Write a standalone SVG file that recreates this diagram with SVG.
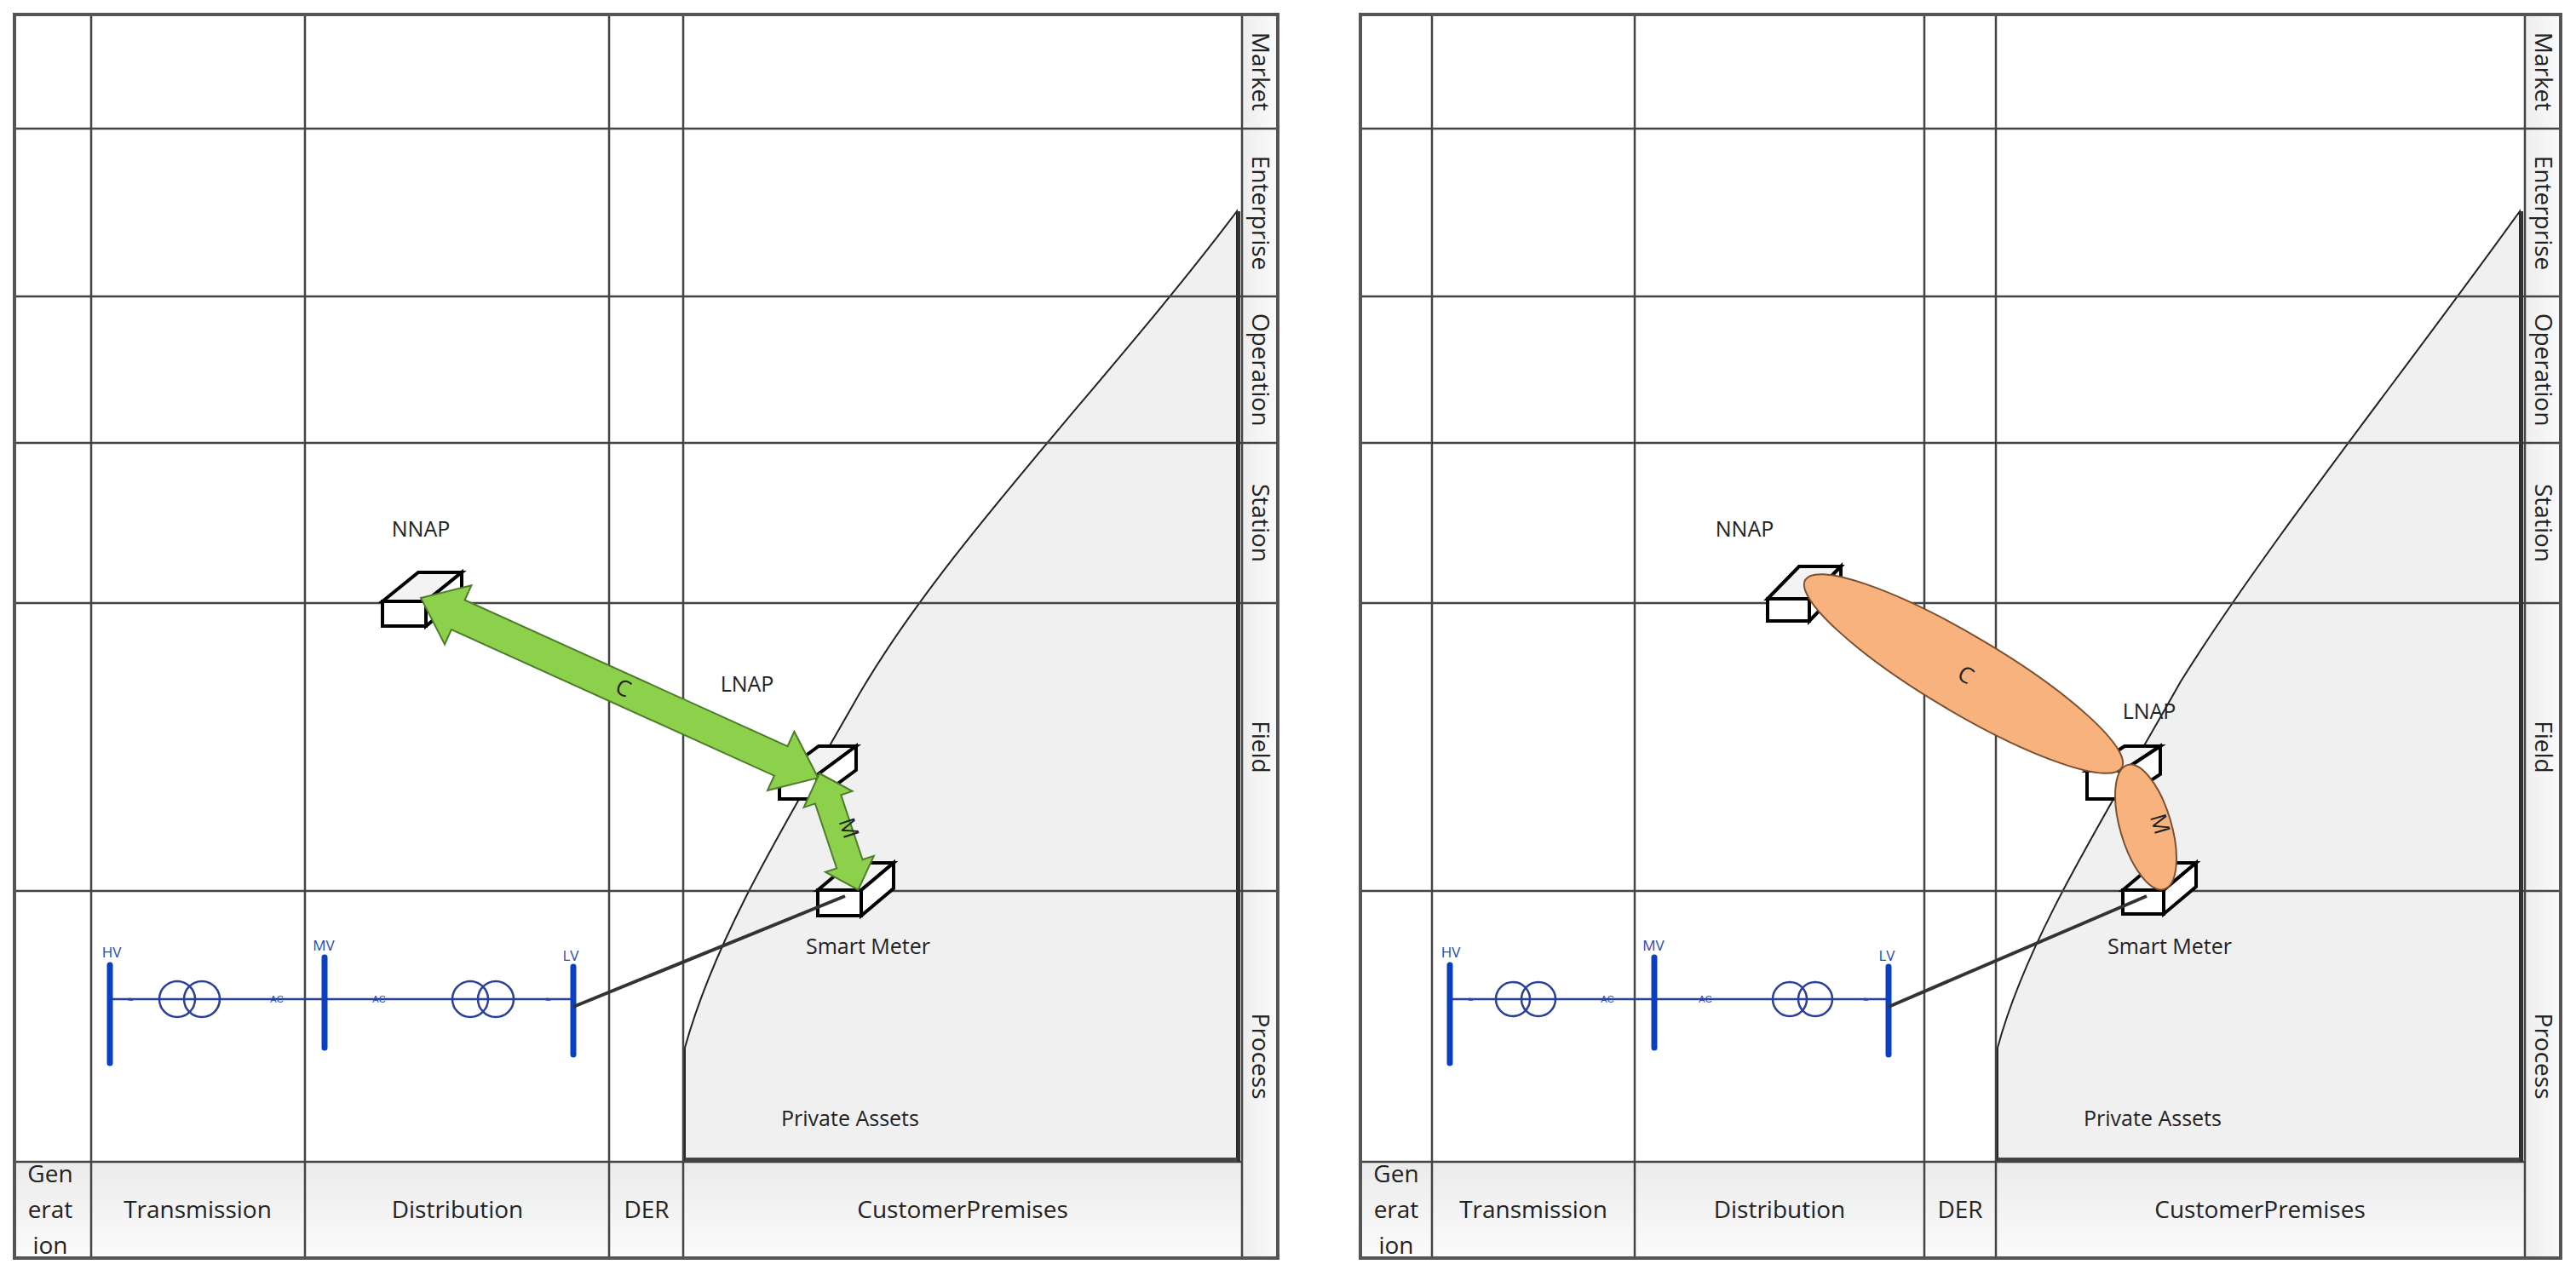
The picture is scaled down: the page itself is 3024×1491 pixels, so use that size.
<svg xmlns="http://www.w3.org/2000/svg" width="3024" height="1491" viewBox="0 0 3024 1491">
<defs>
<linearGradient id="dom" x1="0" y1="0" x2="0" y2="1"><stop offset="0" stop-color="#ebebeb"/><stop offset="1" stop-color="#fbfbfb"/></linearGradient>
<linearGradient id="lay" x1="0" y1="0" x2="1" y2="0"><stop offset="0" stop-color="#eeeeee"/><stop offset="1" stop-color="#fafafa"/></linearGradient>
</defs>
<style>
.grid{stroke:#444;stroke-width:2.5;fill:none}
.border{stroke:#555;stroke-width:4;fill:none}
.t{font-family:"Open Sans","Liberation Sans",sans-serif;fill:#222}
.dom{font-size:28px;text-anchor:middle}
.lay{font-size:28px;text-anchor:middle}
.lbl{font-size:25px;text-anchor:middle}
.ev{font-family:"Open Sans","Liberation Sans",sans-serif;fill:#2a49b0;font-size:17px;text-anchor:middle}
.small{font-family:"Liberation Sans",sans-serif;fill:#2a49b0;font-size:11px;text-anchor:middle}
.bus{stroke:#0a3fc2;stroke-width:7;stroke-linecap:round}
.wire{stroke:#2a3f99;stroke-width:2.5;fill:none}
.tr{stroke:#2a3f99;stroke-width:2.5;fill:none}
.box{stroke:#000;stroke-width:4;fill:#fff;stroke-linejoin:miter}
.boxt{stroke:#000;stroke-width:4;fill:#f3f3f3}
.priv{fill:#f0f0f0;stroke:#222;stroke-width:2}
.link{stroke:#333;stroke-width:4;fill:none}
.arr{fill:#8cd04c;stroke:#4d7d2c;stroke-width:2}
.ell{fill:#f7b27e;stroke:#7a5030;stroke-width:2}
</style>
<rect width="3024" height="1491" fill="#fff"/>

<!-- LEFT PANEL -->
<g id="left-frame">
<path class="priv" d="M1452,248 C1300,450 1100,650 1000,830 C920,970 840,1100 804,1230 L804,1362 L1452,1362 Z"/>
<rect x="17" y="1364" width="1441" height="113" fill="url(#dom)"/>
<rect x="1458" y="17" width="42" height="1460" fill="url(#lay)"/>
<g class="grid">
<line x1="17" y1="151" x2="1500" y2="151"/><line x1="17" y1="348" x2="1500" y2="348"/>
<line x1="17" y1="520" x2="1500" y2="520"/><line x1="17" y1="708" x2="1500" y2="708"/>
<line x1="17" y1="1046" x2="1500" y2="1046"/><line x1="17" y1="1364" x2="1458" y2="1364"/>
<line x1="107" y1="17" x2="107" y2="1477"/><line x1="358" y1="17" x2="358" y2="1477"/>
<line x1="715" y1="17" x2="715" y2="1477"/><line x1="802" y1="17" x2="802" y2="1477"/>
<line x1="1458" y1="17" x2="1458" y2="1477"/>
</g>
<line x1="804" y1="1362" x2="1454" y2="1362" stroke="#444" stroke-width="6"/>
<line x1="1454" y1="248" x2="1454" y2="1364" stroke="#333" stroke-width="4"/>
<rect class="border" x="17" y="17" width="1483" height="1460"/>
<text class="t dom" x="59" y="1388">Gen</text><text class="t dom" x="59" y="1430">erat</text><text class="t dom" x="59" y="1472">ion</text>
<text class="t dom" x="232" y="1430">Transmission</text><text class="t dom" x="537" y="1430">Distribution</text>
<text class="t dom" x="759" y="1430">DER</text><text class="t dom" x="1130" y="1430">CustomerPremises</text>
<g class="t lay">
<text transform="translate(1470,84) rotate(90)">Market</text>
<text transform="translate(1470,250) rotate(90)">Enterprise</text>
<text transform="translate(1470,434) rotate(90)">Operation</text>
<text transform="translate(1470,614) rotate(90)">Station</text>
<text transform="translate(1470,877) rotate(90)">Field</text>
<text transform="translate(1470,1240) rotate(90)">Process</text>
</g>
<text class="t lbl" x="998" y="1322">Private Assets</text>
</g>

<g id="left-grid-electrical">
<line class="wire" x1="129" y1="1173" x2="673" y2="1173"/>
<circle class="tr" cx="208" cy="1173" r="21" fill="#fff"/><circle class="tr" cx="237" cy="1173" r="21" fill="none"/>
<circle class="tr" cx="552" cy="1173" r="21" fill="#fff"/><circle class="tr" cx="582" cy="1173" r="21" fill="none"/>
<line class="bus" x1="129" y1="1133" x2="129" y2="1248"/>
<line class="bus" x1="381" y1="1124" x2="381" y2="1230"/>
<line class="bus" x1="673" y1="1135" x2="673" y2="1238"/>
<text class="ev" x="131" y="1124">HV</text><text class="ev" x="380" y="1116">MV</text><text class="ev" x="670" y="1128">LV</text>
<text class="small" x="153" y="1177">≈</text><text class="small" x="325" y="1177">AC</text>
<text class="small" x="445" y="1177">AC</text><text class="small" x="643" y="1177">≈</text>
</g>

<g id="left-NNAP">
<polygon class="boxt" points="449,706 491,672 542,672 500,706"/>
<polygon class="box" points="500,706 542,672 542,701 500,735"/>
<rect class="box" x="449" y="706" width="51" height="29"/>
<text class="t lbl" x="494" y="630">NNAP</text>
</g>
<g id="left-LNAP">
<polygon class="boxt" points="915,910 961,876 1005,876 959,910"/>
<polygon class="box" points="959,910 1005,876 1005,904 959,938"/>
<rect class="box" x="915" y="910" width="44" height="28"/>
<text class="t lbl" x="877" y="812">LNAP</text>
</g>
<g id="left-SmartMeter">
<polygon class="boxt" points="960,1045 998,1013 1049,1013 1011,1045"/>
<polygon class="box" points="1011,1045 1049,1013 1049,1043 1011,1075"/>
<rect class="box" x="960" y="1045" width="51" height="30"/>
<text class="t lbl" x="1019" y="1120">Smart Meter</text>
</g>

<g id="left-connectors">
<line class="link" x1="673" y1="1182" x2="992" y2="1052"/>
<polygon class="arr" transform="translate(494,702) rotate(24.36)" points="0,0 48,-38 48,-19 464,-19 464,-38 512,0 464,38 464,19 48,19 48,38"/>
<text class="t" font-size="26" text-anchor="middle" transform="translate(728,816) rotate(24.36)">C</text>
<polygon class="arr" transform="translate(962,908) rotate(71.6)" points="0,0 32,-30 32,-16 112,-16 112,-30 144,0 112,30 112,16 32,16 32,30"/>
<text class="t" font-size="26" text-anchor="middle" transform="translate(988,975) rotate(71.6)">M</text>
</g>

<!-- RIGHT PANEL -->
<g id="right-frame">
<path class="priv" d="M2958,248 C2820,440 2660,640 2560,800 C2470,960 2380,1100 2345,1230 L2345,1362 L2958,1362 Z"/>
<rect x="1597" y="1364" width="1367" height="113" fill="url(#dom)"/>
<rect x="2964" y="17" width="42" height="1460" fill="url(#lay)"/>
<g class="grid">
<line x1="1597" y1="151" x2="3006" y2="151"/><line x1="1597" y1="348" x2="3006" y2="348"/>
<line x1="1597" y1="520" x2="3006" y2="520"/><line x1="1597" y1="708" x2="3006" y2="708"/>
<line x1="1597" y1="1046" x2="3006" y2="1046"/><line x1="1597" y1="1364" x2="2964" y2="1364"/>
<line x1="1681" y1="17" x2="1681" y2="1477"/><line x1="1919" y1="17" x2="1919" y2="1477"/>
<line x1="2259" y1="17" x2="2259" y2="1477"/><line x1="2343" y1="17" x2="2343" y2="1477"/>
<line x1="2964" y1="17" x2="2964" y2="1477"/>
</g>
<line x1="2345" y1="1362" x2="2960" y2="1362" stroke="#444" stroke-width="6"/>
<line x1="2960" y1="248" x2="2960" y2="1364" stroke="#333" stroke-width="4"/>
<rect class="border" x="1597" y="17" width="1409" height="1460"/>
<text class="t dom" x="1639" y="1388">Gen</text><text class="t dom" x="1639" y="1430">erat</text><text class="t dom" x="1639" y="1472">ion</text>
<text class="t dom" x="1800" y="1430">Transmission</text><text class="t dom" x="2089" y="1430">Distribution</text>
<text class="t dom" x="2301" y="1430">DER</text><text class="t dom" x="2653" y="1430">CustomerPremises</text>
<g class="t lay">
<text transform="translate(2976,84) rotate(90)">Market</text>
<text transform="translate(2976,250) rotate(90)">Enterprise</text>
<text transform="translate(2976,434) rotate(90)">Operation</text>
<text transform="translate(2976,614) rotate(90)">Station</text>
<text transform="translate(2976,877) rotate(90)">Field</text>
<text transform="translate(2976,1240) rotate(90)">Process</text>
</g>
<text class="t lbl" x="2527" y="1322">Private Assets</text>
</g>

<g id="right-grid-electrical">
<line class="wire" x1="1702" y1="1173" x2="2217" y2="1173"/>
<circle class="tr" cx="1776" cy="1173" r="20" fill="#fff"/><circle class="tr" cx="1806" cy="1173" r="20" fill="none"/>
<circle class="tr" cx="2101" cy="1173" r="20" fill="#fff"/><circle class="tr" cx="2131" cy="1173" r="20" fill="none"/>
<line class="bus" x1="1702" y1="1133" x2="1702" y2="1248"/>
<line class="bus" x1="1942" y1="1124" x2="1942" y2="1230"/>
<line class="bus" x1="2217" y1="1135" x2="2217" y2="1238"/>
<text class="ev" x="1703" y="1124">HV</text><text class="ev" x="1941" y="1116">MV</text><text class="ev" x="2215" y="1128">LV</text>
<text class="small" x="1726" y="1177">≈</text><text class="small" x="1887" y="1177">AC</text>
<text class="small" x="2002" y="1177">AC</text><text class="small" x="2190" y="1177">≈</text>
</g>

<g id="right-NNAP">
<polygon class="boxt" points="2075,703 2112,665 2161,665 2124,703"/>
<polygon class="box" points="2124,703 2161,665 2161,691 2124,729"/>
<rect class="box" x="2075" y="703" width="49" height="26"/>
<text class="t lbl" x="2048" y="630">NNAP</text>
</g>
<g id="right-LNAP">
<polygon class="boxt" points="2450,905 2494,876 2536,876 2492,905"/>
<polygon class="box" points="2492,905 2536,876 2536,909 2492,938"/>
<rect class="box" x="2450" y="905" width="42" height="33"/>
<text class="t lbl" x="2523" y="844">LNAP</text>
</g>
<g id="right-SmartMeter">
<polygon class="boxt" points="2492,1045 2530,1013 2578,1013 2540,1045"/>
<polygon class="box" points="2540,1045 2578,1013 2578,1041 2540,1073"/>
<rect class="box" x="2492" y="1045" width="48" height="28"/>
<text class="t lbl" x="2547" y="1120">Smart Meter</text>
</g>

<g id="right-connectors">
<line class="link" x1="2217" y1="1182" x2="2520" y2="1052"/>
<ellipse class="ell" cx="2305" cy="791" rx="216" ry="45" transform="rotate(30.7 2305 791)"/>
<text class="t" font-size="26" text-anchor="middle" transform="translate(2303,800) rotate(30.7)">C</text>
<ellipse class="ell" cx="2519" cy="971" rx="76" ry="30" transform="rotate(73.5 2519 971)"/>
<text class="t" font-size="26" text-anchor="middle" transform="translate(2527,970) rotate(73.5)">M</text>
</g>
</svg>
